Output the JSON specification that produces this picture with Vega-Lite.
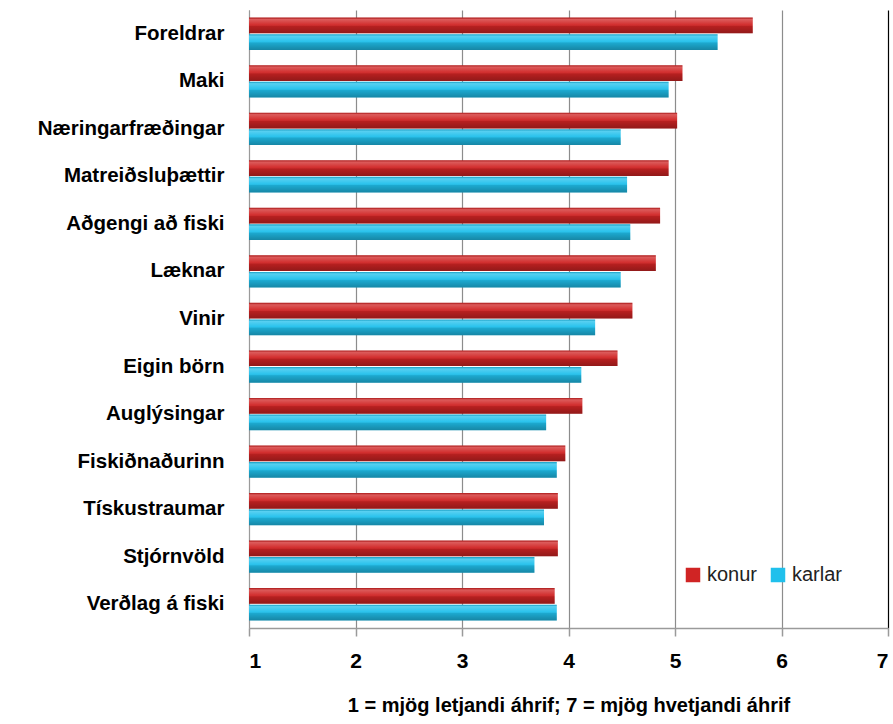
{
  "$schema": "https://vega.github.io/schema/vega-lite/v6.json",
  "autosize": {"type": "none"},
  "width": 639,
  "height": 618,
  "padding": {"left": 249, "top": 10, "right": 5, "bottom": 96},
  "background": "white",
  "data": {
    "values": [
      {"kat": "Foreldrar", "kyn": "konur", "gildi": 5.73},
      {"kat": "Foreldrar", "kyn": "karlar", "gildi": 5.40},
      {"kat": "Maki", "kyn": "konur", "gildi": 5.07},
      {"kat": "Maki", "kyn": "karlar", "gildi": 4.94},
      {"kat": "Næringarfræðingar", "kyn": "konur", "gildi": 5.02},
      {"kat": "Næringarfræðingar", "kyn": "karlar", "gildi": 4.49},
      {"kat": "Matreiðsluþættir", "kyn": "konur", "gildi": 4.94},
      {"kat": "Matreiðsluþættir", "kyn": "karlar", "gildi": 4.55},
      {"kat": "Aðgengi að fiski", "kyn": "konur", "gildi": 4.86},
      {"kat": "Aðgengi að fiski", "kyn": "karlar", "gildi": 4.58},
      {"kat": "Læknar", "kyn": "konur", "gildi": 4.82},
      {"kat": "Læknar", "kyn": "karlar", "gildi": 4.49},
      {"kat": "Vinir", "kyn": "konur", "gildi": 4.60},
      {"kat": "Vinir", "kyn": "karlar", "gildi": 4.25},
      {"kat": "Eigin börn", "kyn": "konur", "gildi": 4.46},
      {"kat": "Eigin börn", "kyn": "karlar", "gildi": 4.12},
      {"kat": "Auglýsingar", "kyn": "konur", "gildi": 4.13},
      {"kat": "Auglýsingar", "kyn": "karlar", "gildi": 3.79},
      {"kat": "Fiskiðnaðurinn", "kyn": "konur", "gildi": 3.97},
      {"kat": "Fiskiðnaðurinn", "kyn": "karlar", "gildi": 3.89},
      {"kat": "Tískustraumar", "kyn": "konur", "gildi": 3.90},
      {"kat": "Tískustraumar", "kyn": "karlar", "gildi": 3.77},
      {"kat": "Stjórnvöld", "kyn": "konur", "gildi": 3.90},
      {"kat": "Stjórnvöld", "kyn": "karlar", "gildi": 3.68},
      {"kat": "Verðlag á fiski", "kyn": "konur", "gildi": 3.87},
      {"kat": "Verðlag á fiski", "kyn": "karlar", "gildi": 3.89}
    ]
  },
  "encoding": {
    "y": {
      "field": "kat",
      "type": "nominal",
      "sort": null,
      "scale": {"paddingInner": 0.32, "paddingOuter": 0.16},
      "axis": {
        "title": null,
        "ticks": false,
        "domain": true,
        "domainColor": "#9a9a9a",
        "labelFont": "Liberation Sans",
        "labelFontWeight": "bold",
        "labelFontSize": 20.5,
        "labelColor": "#000000",
        "labelPadding": 25,
        "labelLimit": 260
      }
    },
    "yOffset": {"field": "kyn", "type": "nominal", "sort": ["konur", "karlar"], "scale": {"paddingInner": 0.05}},
    "x": {
      "field": "gildi",
      "type": "quantitative",
      "scale": {"domain": [1, 7], "zero": false, "nice": false},
      "axis": {
        "values": [1, 2, 3, 4, 5, 6, 7],
        "format": "d",
        "grid": true,
        "gridColor": {"condition": {"test": "datum.value === 7", "value": "#000000"}, "value": "#8c8c8c"},
        "gridWidth": 1.2,
        "domainColor": "#9a9a9a",
        "domainWidth": 1.5,
        "tickColor": "#9a9a9a",
        "tickSize": 8,
        "tickWidth": 1.5,
        "labelFont": "Liberation Sans",
        "labelFontWeight": "bold",
        "labelFontSize": 21,
        "labelColor": "#000000",
        "labelPadding": 14,
        "title": "1 = mjög letjandi áhrif; 7 = mjög hvetjandi áhrif",
        "titleFont": "Liberation Sans",
        "titleFontWeight": "bold",
        "titleFontSize": 20,
        "titleColor": "#000000",
        "titlePadding": 24
      }
    },
    "x2": {"datum": 1}
  },
  "layer": [
    {
      "mark": {"type": "bar"},
      "encoding": {
        "color": {
          "field": "kyn",
          "type": "nominal",
          "scale": {"domain": ["konur", "karlar"], "range": ["#d02424", "#20c0ec"]},
          "legend": {
            "title": null,
            "orient": "none",
            "legendX": 434,
            "legendY": 555,
            "direction": "horizontal",
            "symbolType": "square",
            "symbolSize": 210,
            "symbolStrokeWidth": 0,
            "labelFont": "Liberation Sans",
            "labelFontSize": 20,
            "labelColor": "#222222",
            "columnPadding": 10,
            "labelOffset": 4
          }
        }
      }
    },
    {
      "mark": {
        "type": "bar",
        "fill": {
          "gradient": "linear",
          "x1": 0, "y1": 0, "x2": 0, "y2": 1,
          "stops": [
            {"offset": 0, "color": "rgba(0,0,0,0.15)"},
            {"offset": 0.12, "color": "rgba(255,255,255,0.25)"},
            {"offset": 0.45, "color": "rgba(255,255,255,0.05)"},
            {"offset": 0.55, "color": "rgba(0,0,0,0.12)"},
            {"offset": 1, "color": "rgba(0,0,0,0.3)"}
          ]
        }
      },
      "encoding": {}
    }
  ],
  "config": {"view": {"stroke": null}}
}
